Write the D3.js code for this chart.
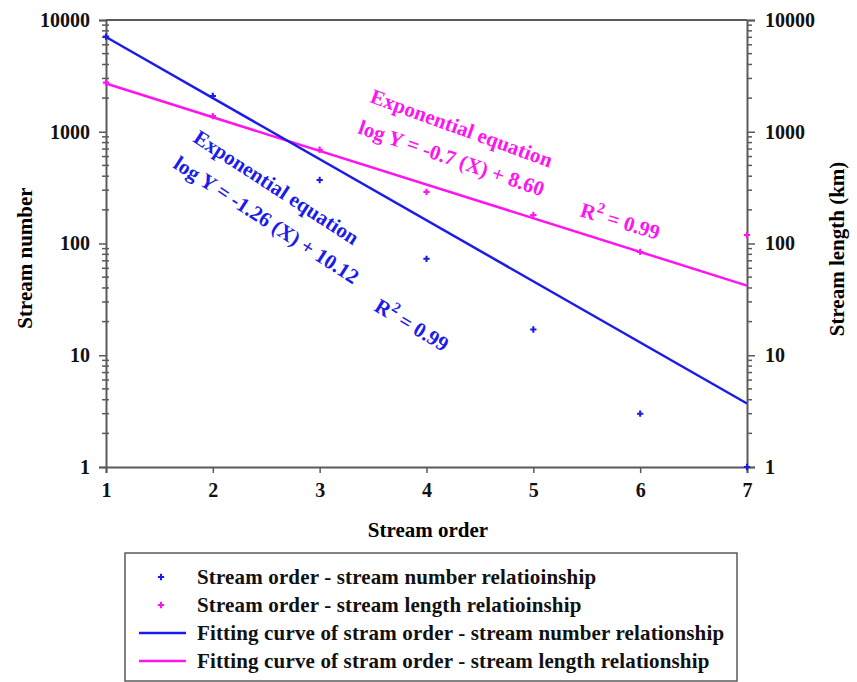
<!DOCTYPE html>
<html lang="en">
<head>
<meta charset="utf-8">
<title>Stream order</title>
<script src="https://d3js.org/d3.v7.min.js"></script>
<style>
	body { margin: 0; background: #fff; }
	text { font-family: "Liberation Serif", "Times New Roman", serif; font-weight: bold; }
</style>
</head>
<body>
<div id="chart"></div>
<script type="text/javascript">
	// data
	var orders = [1, 2, 3, 4, 5, 6, 7];
	var streamNumber = [7100, 2090, 370, 73, 17, 3, 1];
	var streamLength = [2750, 1380, 690, 290, 180, 84, 119];
	var fitOrders = [1, 7];
	var fitNumber = [7050, 3.7];
	var fitLength = [2700, 42];
	var xTicks = [1, 2, 3, 4, 5, 6, 7];
	var yTicks = [1, 10, 100, 1000, 10000];
	var legendLabels = [
		'Stream order - stream number relatioinship',
		'Stream order - stream length relatioinship',
		'Fitting curve of stram order - stream number relationship',
		'Fitting curve of stram order - stream length relationship'
	];

	var W = 857, H = 682;
	var blue = '#1c1ce8', pink = '#ff14f0', axisCol = '#5a5a5a';
	var plotLeft = 106, plotRight = 747, plotTop = 20, plotBottom = 467;

	var svg = d3.select('#chart').append('svg')
		.attr('width', W)
		.attr('height', H);

	var x = d3.scaleLinear().domain([1, 7]).range([plotLeft, plotRight]);
	var y = d3.scaleLog().domain([1, 10000]).range([plotBottom, plotTop]);

	var minor = y.ticks().filter(function(d) { return yTicks.indexOf(d) < 0; });

	// left axis
	var gl = svg.append('g').attr('transform', 'translate(' + plotLeft + ',0)');
	gl.call(d3.axisLeft(y).tickValues(yTicks).tickSize(7).tickPadding(9).tickFormat(d3.format('d')));
	// right axis
	var gr = svg.append('g').attr('transform', 'translate(' + plotRight + ',0)');
	gr.call(d3.axisRight(y).tickValues(yTicks).tickSize(8).tickPadding(10).tickFormat(d3.format('d')));
	// bottom axis
	var gb = svg.append('g').attr('transform', 'translate(0,' + plotBottom + ')');
	gb.call(d3.axisBottom(x).tickValues(xTicks).tickSize(6).tickPadding(10).tickFormat(d3.format('d')));

	[gl, gr, gb].forEach(function(g) {
		g.select('.domain').attr('stroke', axisCol).attr('stroke-width', 2);
		g.selectAll('.tick line').attr('stroke', axisCol).attr('stroke-width', 1.5);
		g.selectAll('.tick text').attr('fill', '#111').style('font-size', '20px')
			.style('font-family', '"Liberation Serif", serif').style('font-weight', 'bold');
	});

	// minor ticks
	gl.selectAll('.minor').data(minor).enter().append('line')
		.attr('x1', -4).attr('x2', 3)
		.attr('y1', function(d) { return y(d); }).attr('y2', function(d) { return y(d); })
		.attr('stroke', axisCol).attr('stroke-width', 1.5);
	gr.selectAll('.minor').data(minor).enter().append('line')
		.attr('x1', 0).attr('x2', 5)
		.attr('y1', function(d) { return y(d); }).attr('y2', function(d) { return y(d); })
		.attr('stroke', axisCol).attr('stroke-width', 1.5);

	// top border
	svg.append('line')
		.attr('x1', x(1)).attr('x2', x(7))
		.attr('y1', y(10000)).attr('y2', y(10000))
		.attr('stroke', axisCol).attr('stroke-width', 2);

	// fitting lines
	var line = d3.line()
		.x(function(d) { return x(d[0]); })
		.y(function(d) { return y(d[1]); });
	svg.append('path')
		.datum(d3.zip(fitOrders, fitLength))
		.attr('d', line).attr('fill', 'none')
		.attr('stroke', pink).attr('stroke-width', 2.5);
	svg.append('path')
		.datum(d3.zip(fitOrders, fitNumber))
		.attr('d', line).attr('fill', 'none')
		.attr('stroke', blue).attr('stroke-width', 2.5);

	// points
	var cross = d3.symbol().type(d3.symbolCross).size(22);
	function drawPoints(vals, col) {
		svg.append('g').selectAll('path')
			.data(d3.zip(orders, vals))
			.enter()
			.append('path')
			.attr('d', cross)
			.attr('fill', col)
			.attr('transform', function(d) { return 'translate(' + x(d[0]) + ',' + y(d[1]) + ')'; });
	}
	drawPoints(streamNumber, blue);
	drawPoints(streamLength, pink);

	// axis titles
	svg.append('text')
		.attr('transform', 'translate(32,258) rotate(-90)')
		.attr('text-anchor', 'middle')
		.style('font-size', '21px')
		.text('Stream number');
	svg.append('text')
		.attr('transform', 'translate(844,249) rotate(-90)')
		.attr('text-anchor', 'middle')
		.style('font-size', '21px')
		.text('Stream length (km)');
	svg.append('text')
		.attr('x', 428).attr('y', 537)
		.attr('text-anchor', 'middle')
		.style('font-size', '21px')
		.text('Stream order');

	// equations
	function note(px, py, ang, col, txt, sup, rest) {
		var t = svg.append('text')
			.attr('transform', 'translate(' + px + ',' + py + ') rotate(' + ang + ')')
			.attr('fill', col)
			.style('font-size', '21px');
		t.append('tspan').text(txt);
		if (sup) {
			t.append('tspan').attr('dy', -9).style('font-size', '15px').text(sup);
			t.append('tspan').attr('dy', 9).text(rest);
		}
	}
	note(192, 141, 33, blue, 'Exponential equation');
	note(172, 167, 33, blue, 'log Y = -1.26 (X) + 10.12');
	note(373, 310, 31, blue, 'R', '2', ' = 0.99');
	note(369, 102, 20, pink, 'Exponential equation');
	note(357, 133, 19, pink, 'log Y = -0.7 (X) + 8.60');
	note(579, 216, 17, pink, 'R', '2', ' = 0.99');

	// legend
	var lg = svg.append('g');
	lg.append('rect')
		.attr('x', 125).attr('y', 553)
		.attr('width', 612).attr('height', 128)
		.attr('fill', 'none').attr('stroke', axisCol).attr('stroke-width', 1.5);
	var rowY = [577, 605, 633, 661];
	legendLabels.forEach(function(lab, i) {
		var cy = rowY[i];
		if (i < 2) {
			lg.append('path').attr('d', cross)
				.attr('fill', i == 0 ? blue : pink)
				.attr('transform', 'translate(161,' + cy + ')');
		} else {
			lg.append('line')
				.attr('x1', 139).attr('x2', 186)
				.attr('y1', cy).attr('y2', cy)
				.attr('stroke', i == 2 ? blue : pink).attr('stroke-width', 2.5);
		}
		lg.append('text')
			.attr('x', 197).attr('y', cy + 7)
			.style('font-size', '21px')
			.style('letter-spacing', '0.15px')
			.attr('fill', '#111')
			.text(lab);
	});
</script>
</body>
</html>
